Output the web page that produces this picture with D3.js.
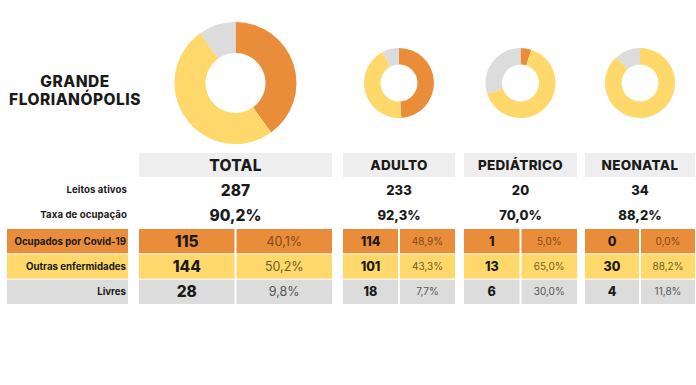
<!DOCTYPE html>
<html><head><meta charset="utf-8">
<script src="https://cdn.jsdelivr.net/npm/d3@7/dist/d3.min.js"></script>
<style>html,body{margin:0;padding:0;background:#fff;} svg{display:block;}</style>
</head><body>
<script>
const categories = ["TOTAL", "ADULTO", "PEDIÁTRICO", "NEONATAL"];
const leitosAtivos = [287, 233, 20, 34];
const taxaOcupacao = ["90,2%", "92,3%", "70,0%", "88,2%"];
const rowLabels = ["Ocupados por Covid-19", "Outras enfermidades", "Livres"];
const covid = [115, 114, 1, 0];
const outras = [144, 101, 13, 30];
const livres = [28, 18, 6, 4];
const covidPct = ["40,1%", "48,9%", "5,0%", "0,0%"];
const outrasPct = ["50,2%", "43,3%", "65,0%", "88,2%"];
const livresPct = ["9,8%", "7,7%", "30,0%", "11,8%"];
const title = ["GRANDE", "FLORIANÓPOLIS"];

const W = 696, H = 385;
const FONT = "Inter, 'Open Sans', sans-serif";
const fills = ["#E98D3B", "#FED86B", "#DCDCDC"];
const pctColors = ["#7d4a1e", "#6e6122", "#555555"];

const svg = d3.select("body").append("svg").attr("width", W).attr("height", H);

// column geometry (layout)
const colX = d3.scaleOrdinal().domain(categories).range([139, 343, 464, 585]);
const colW = d3.scaleOrdinal().domain(categories).range([193, 112, 113, 110]);
const isTotal = c => c === "TOTAL";

// rows
const yRow = d3.scaleBand().domain(rowLabels).range([229, 304]).paddingInner(0.04);

// Title
svg.append("text").attr("text-anchor", "middle")
  .attr("font-family", FONT).attr("font-weight", 800).attr("font-size", 15.5)
  .attr("letter-spacing", 0.5).attr("fill", "#1a1a1a")
  .selectAll("tspan").data(title).join("tspan")
  .attr("x", 75).attr("y", (d, i) => 87 + i * 18).text(d => d);

// Donuts
const pie = d3.pie().sort(null);
categories.forEach((c, i) => {
  const vals = [covid[i], outras[i], livres[i]];
  const cx = colX(c) + colW(c) / 2;
  const rO = isTotal(c) ? 61 : 35, rI = isTotal(c) ? 30 : 18.5;
  const arc = d3.arc().innerRadius(rI).outerRadius(rO);
  const g = svg.append("g").attr("transform", `translate(${cx},83)`);
  g.selectAll("path").data(pie(vals)).join("path")
    .attr("d", arc).attr("fill", (d, j) => fills[j]);
});

// Header row + info rows
categories.forEach((c, i) => {
  svg.append("rect").attr("x", colX(c)).attr("y", 153).attr("width", colW(c)).attr("height", 24).attr("fill", "#EEEEEE");
  svg.append("text").attr("x", colX(c) + colW(c) / 2).attr("y", 165).attr("dy", "0.36em")
    .attr("text-anchor", "middle").attr("font-family", FONT).attr("font-weight", 800)
    .attr("font-size", isTotal(c) ? 15.5 : 13.5).attr("letter-spacing", 0.3).attr("fill", "#1a1a1a").text(c);
  svg.append("text").attr("x", colX(c) + colW(c) / 2).attr("y", 190).attr("dy", "0.36em")
    .attr("text-anchor", "middle").attr("font-family", FONT).attr("font-weight", 800)
    .attr("font-size", isTotal(c) ? 15.5 : 13).attr("fill", "#1a1a1a").text(leitosAtivos[i]);
  svg.append("text").attr("x", colX(c) + colW(c) / 2).attr("y", 215).attr("dy", "0.36em")
    .attr("text-anchor", "middle").attr("font-family", FONT).attr("font-weight", 800)
    .attr("font-size", isTotal(c) ? 15.5 : 13).attr("fill", "#1a1a1a").text(taxaOcupacao[i]);
});

// Row labels for info rows
[["Leitos ativos", 190], ["Taxa de ocupação", 215]].forEach(([t, y]) => {
  svg.append("text").attr("x", 127).attr("y", y).attr("dy", "0.36em").attr("text-anchor", "end")
    .attr("font-family", FONT).attr("font-weight", 700).attr("font-size", 9.6)
    .attr("letter-spacing", 0.1).attr("fill", "#1a1a1a").text(t);
});

// Data rows
const counts = [covid, outras, livres];
const pcts = [covidPct, outrasPct, livresPct];
rowLabels.forEach((r, k) => {
  const y = yRow(r), h = yRow.bandwidth();
  svg.append("rect").attr("x", 7).attr("y", y).attr("width", 121).attr("height", h).attr("fill", fills[k]);
  svg.append("text").attr("x", 126).attr("y", y + h / 2).attr("dy", "0.36em").attr("text-anchor", "end")
    .attr("font-family", FONT).attr("font-weight", 700).attr("font-size", 9.7)
    .attr("fill", "#1a1a1a").text(r);
  categories.forEach((c, i) => {
    const x0 = colX(c), w = colW(c), half = (w - 2) / 2;
    svg.append("rect").attr("x", x0).attr("y", y).attr("width", half).attr("height", h).attr("fill", fills[k]);
    svg.append("rect").attr("x", x0 + half + 2).attr("y", y).attr("width", half).attr("height", h).attr("fill", fills[k]);
    svg.append("text").attr("x", x0 + half / 2).attr("y", y + h / 2).attr("dy", "0.36em").attr("text-anchor", "middle")
      .attr("font-family", FONT).attr("font-weight", 800).attr("font-size", isTotal(c) ? 15.5 : 12.5)
      .attr("fill", "#1a1a1a").text(counts[k][i]);
    svg.append("text").attr("x", x0 + half * 1.5 + 2).attr("y", y + h / 2).attr("dy", "0.36em").attr("text-anchor", "middle")
      .attr("font-family", FONT).attr("font-weight", 400).attr("font-size", isTotal(c) ? 12.5 : 10)
      .attr("fill", pctColors[k]).text(pcts[k][i]);
  });
});
</script>
</body></html>
